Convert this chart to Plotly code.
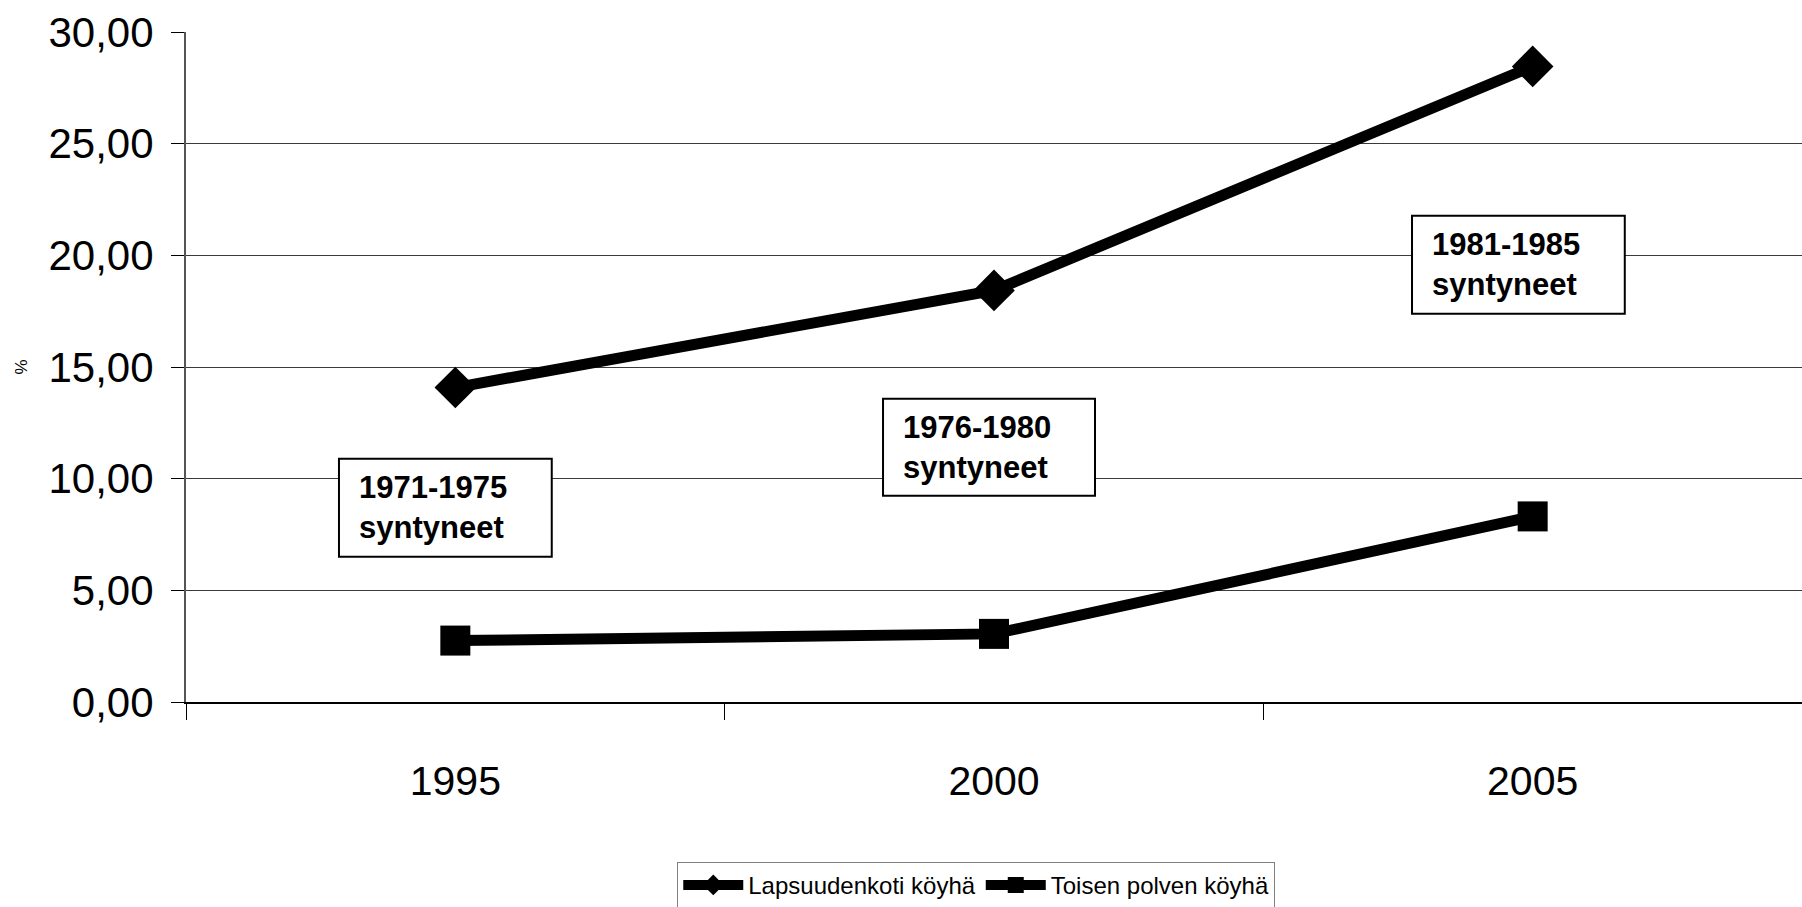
import plotly.graph_objects as go

years = ["1995", "2000", "2005"]
lapsuudenkoti = [14.08, 18.43, 28.46]
toisen_polven = [2.75, 3.05, 8.31]
series_names = ["Lapsuudenkoti köyhä", "Toisen polven köyhä"]
y_ticks = [0, 5, 10, 15, 20, 25, 30]
y_tick_labels = ["0,00", "5,00", "10,00", "15,00", "20,00", "25,00", "30,00"]
cohort_labels = ["1971-1975<br>syntyneet", "1976-1980<br>syntyneet", "1981-1985<br>syntyneet"]
# boxes: (x0, x1, y0, y1) in axis units
cohort_boxes = [(-0.216, 0.179, 6.50, 10.89),
                (0.794, 1.1875, 9.23, 13.58),
                (1.776, 2.171, 17.38, 21.77)]

FONT = "Liberation Sans, Arial, sans-serif"

fig = go.Figure()
fig.add_trace(go.Scatter(
    x=years, y=lapsuudenkoti, name=series_names[0], mode="lines+markers",
    line=dict(color="black", width=11),
    marker=dict(symbol="diamond", size=32, color="black"),
))
fig.add_trace(go.Scatter(
    x=years, y=toisen_polven, name=series_names[1], mode="lines+markers",
    line=dict(color="black", width=11),
    marker=dict(symbol="square", size=30, color="black"),
))

for (x0, x1, y0, y1), lab in zip(cohort_boxes, cohort_labels):
    fig.add_shape(type="rect", xref="x", yref="y", x0=x0, x1=x1, y0=y0, y1=y1,
                  line=dict(color="black", width=2), fillcolor="white", layer="above")
    fig.add_annotation(xref="x", yref="y", x=x0, y=(y0 + y1) / 2, xshift=18,
                       xanchor="left", yanchor="middle", align="left", showarrow=False,
                       text="<b>" + lab + "</b>",
                       font=dict(family=FONT, size=31, color="black"))

fig.update_layout(
    width=1802, height=907,
    margin=dict(l=186, r=0, t=32, b=205, autoexpand=False),
    paper_bgcolor="white", plot_bgcolor="white",
    showlegend=True,
    legend=dict(orientation="h", xref="paper", yref="paper", x=0.304, y=-0.2385,
                xanchor="left", yanchor="top", bgcolor="white",
                bordercolor="#808080", borderwidth=1,
                font=dict(family=FONT, size=24, color="black"),
                itemwidth=60, tracegroupgap=0),
    xaxis=dict(
        type="category", range=[-0.5, 2.5], automargin=False,
        showline=True, linecolor="black", linewidth=2,
        ticks="outside", tickson="boundaries", ticklen=16, tickcolor="black", tickwidth=1,
        showgrid=False, zeroline=False,
        tickfont=dict(family=FONT, size=41, color="black"),
        ticklabelstandoff=42,
    ),
    yaxis=dict(
        range=[0, 30], tickmode="array", tickvals=y_ticks, ticktext=y_tick_labels,
        automargin=False,
        showline=True, linecolor="#555555", linewidth=2,
        ticks="outside", ticklen=13, tickcolor="black", tickwidth=1,
        showgrid=True, gridcolor="#3a3a3a", gridwidth=1, zeroline=False,
        tickfont=dict(family=FONT, size=42, color="black"),
        ticklabelstandoff=9,
        title=dict(text="%", font=dict(family=FONT, size=17, color="black"), standoff=17),
    ),
)

fig.write_html("out.html", config={"displayModeBar": False},
               post_script="document.body.style.margin='0';document.body.style.overflow='hidden';")
